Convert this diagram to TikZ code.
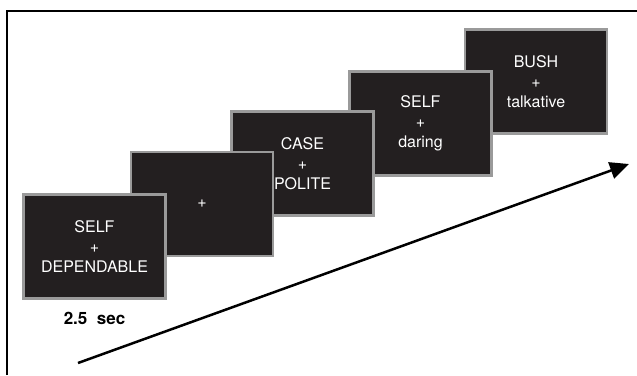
\documentclass[tikz,border=0pt]{standalone}
\usepackage{fontspec}
\setmainfont{TeX Gyre Heros}
\usetikzlibrary{calc,arrows.meta}
\definecolor{slidefill}{HTML}{231F20}
\definecolor{slideedge}{HTML}{9A9A9A}
\tikzset{
  slide/.style={draw=slideedge,line width=2.5pt,fill=slidefill,text=white,
    minimum width=142pt,minimum height=104pt,align=center,
    font=\fontsize{16}{20}\selectfont},
}
\begin{document}
\begin{tikzpicture}[x=1pt,y=-1pt]
\useasboundingbox (0,0) rectangle (637,375);
\draw[line width=2pt] (7,375) -- (7,11) -- (637,11);

\node [slide](s5) at (536,81.5){BUSH\\+\\talkative};
\node [slide](s4) at (420.5,123.5){SELF\\+\\daring};
\node [slide](s3) at (302.5,163.5){CASE\\+\\POLITE};
\node [slide](s2) at (202,204){+};
\node [slide](s1) at (94.5,246.5){SELF\\+\\DEPENDABLE};

\node [font=\fontsize{17}{19}\selectfont\bfseries](dur) at ($ (s1.south) + (0,19)$){2.5\ \ sec};

\coordinate (tstart) at (78,363);
\coordinate (tend) at (629,164);
\draw[-{Triangle[length=19pt,width=17pt]},line width=2.5pt] (tstart) -- (tend);

\end{tikzpicture}
\end{document}
